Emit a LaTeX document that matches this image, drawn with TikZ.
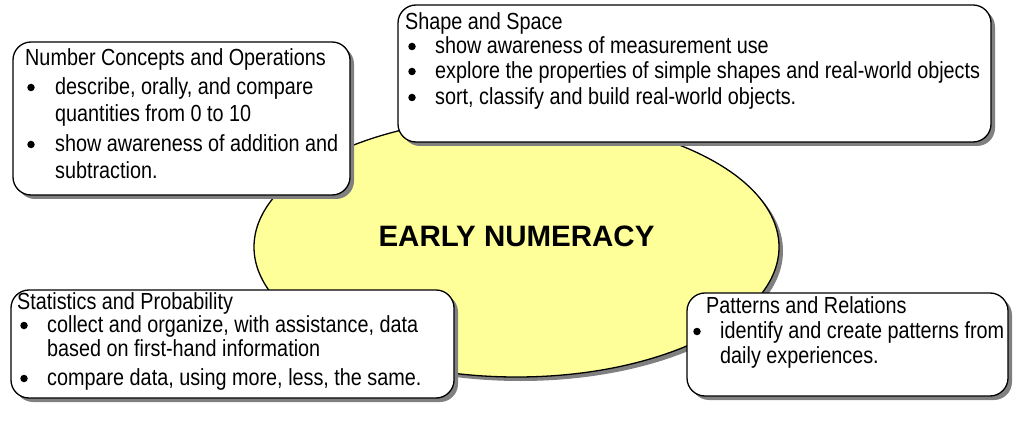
\documentclass[tikz,border=0pt]{standalone}
\usepackage{fontspec}
\usetikzlibrary{shapes.geometric,shadows}
\newfontfamily\narrowfont{Liberation Sans}[FakeStretch=0.85]
\newfontfamily\headfont{Liberation Sans}
\definecolor{paleyellow}{HTML}{FFFF99}
\definecolor{shadowgray}{HTML}{808080}
\tikzset{
  shadowed/.style={drop shadow={shadow xshift=4pt,shadow yshift=-4pt,fill=shadowgray,opacity=1}},
  panel/.style={rectangle,draw=black,line width=1.3pt,fill=white,rounded corners=18pt,inner sep=0pt,shadowed},
  core/.style={ellipse,draw=black,line width=1.3pt,fill=paleyellow,inner sep=0pt,shadowed},
  txt/.style={anchor=base west,inner sep=0pt,font=\narrowfont\fontsize{23.3}{27}\selectfont},
  dot/.style={circle,fill=black,draw=none,inner sep=0pt,minimum size=7.5pt},
  headtxt/.style={anchor=base,inner sep=0pt,font=\headfont\bfseries\fontsize{29.5}{34}\selectfont}
}
\begin{document}
\begin{tikzpicture}[x=1pt,y=-1pt]
\useasboundingbox (0,0) rectangle (1014,430);
% central ellipse
\node[core,minimum width=525pt,minimum height=260pt] (core) at (516.5,247) {};
\node[headtxt] (head) at (516.5,247) {EARLY NUMERACY};
% box 1
\node[panel,minimum width=337pt,minimum height=153pt] (b1) at (181.5,118.5) {};
\node[txt] (b1t) at (25,65.5) {Number Concepts and Operations};
\node[dot] (b1d1) at (31,87.5) {};
\node[txt] (b1a) at (55,94.5) {describe, orally, and compare};
\node[txt] (b1b) at (55,121.5) {quantities from 0 to 10};
\node[dot] (b1d2) at (31,144.5) {};
\node[txt] (b1c) at (55,151.5) {show awareness of addition and};
\node[txt] (b1e) at (55,178.5) {subtraction.};
% box 2
\node[panel,minimum width=593pt,minimum height=137pt] (b2) at (694.5,73.5) {};
\node[txt] (b2t) at (405,30) {Shape and Space};
\node[dot] (b2d1) at (412,46.5) {};
\node[txt] (b2a) at (435,53.5) {show awareness of measurement use};
\node[dot] (b2d2) at (412,71.5) {};
\node[txt] (b2b) at (435,78.5) {explore the properties of simple shapes and real-world objects};
\node[dot] (b2d3) at (412,97.5) {};
\node[txt] (b2c) at (435,104.5) {sort, classify and build real-world objects.};
% box 3
\node[panel,minimum width=443pt,minimum height=108pt] (b3) at (232.5,344) {};
\node[txt] (b3t) at (17,309.5) {Statistics and Probability};
\node[dot] (b3d1) at (24,325.5) {};
\node[txt] (b3a) at (47,332.5) {collect and organize, with assistance, data};
\node[txt] (b3b) at (47,356.5) {based on first-hand information};
\node[dot] (b3d2) at (24,378.5) {};
\node[txt] (b3c) at (47,385.5) {compare data, using more, less, the same.};
% box 4
\node[panel,minimum width=321pt,minimum height=103pt] (b4) at (847.5,344.5) {};
\node[txt] (b4t) at (706,313.5) {Patterns and Relations};
\node[dot] (b4d1) at (697,331.5) {};
\node[txt] (b4a) at (720,338.5) {identify and create patterns from};
\node[txt] (b4b) at (720,363.5) {daily experiences.};
\end{tikzpicture}
\end{document}
